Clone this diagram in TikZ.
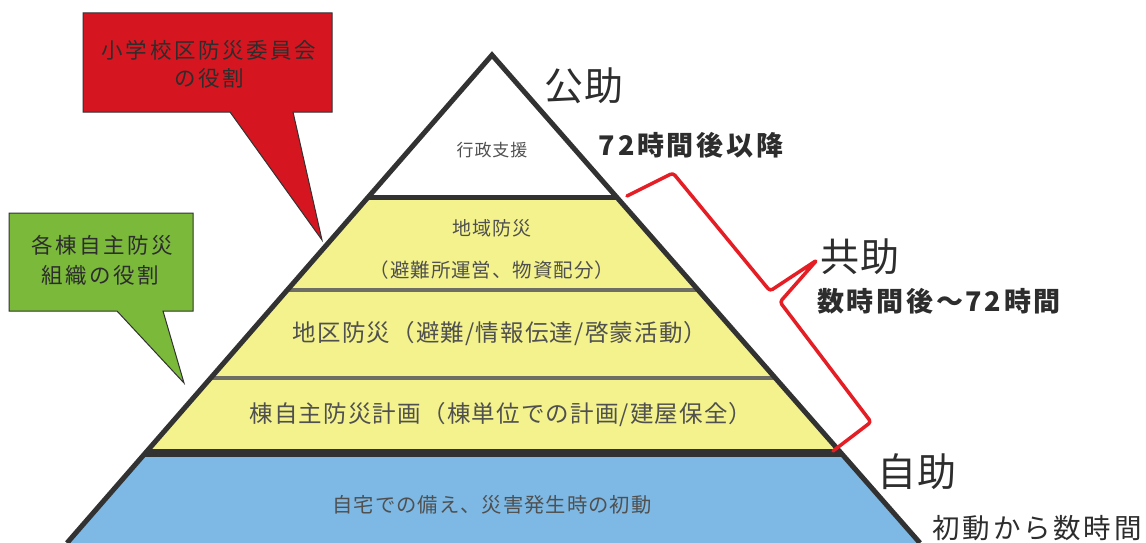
\documentclass[tikz,border=0pt]{standalone}
\usepackage{fontspec}
\newfontfamily\jps[LetterSpace=5]{Noto Sans CJK JP}
\newfontfamily\jp[LetterSpace=12]{Noto Sans CJK JP}
\newfontfamily\jpw[LetterSpace=10]{Noto Sans CJK JP}
\definecolor{calloutred}{RGB}{213,22,32}
\definecolor{calloutgreen}{RGB}{122,185,58}
\definecolor{layeryellow}{RGB}{243,242,140}
\definecolor{layerblue}{RGB}{125,185,228}
\definecolor{outline}{RGB}{50,50,50}
\definecolor{sepgray}{RGB}{110,110,100}
\definecolor{bracered}{RGB}{228,30,36}
\definecolor{txtdark}{RGB}{45,45,45}
\definecolor{txtgray}{RGB}{80,80,80}
\tikzset{
  lbl/.style={inner sep=0pt, anchor=center, text=txtdark},
  layertxt/.style={inner sep=0pt, anchor=center, text=txtgray},
  callout/.style={draw=outline, line width=1pt, line join=miter},
}
\begin{document}
\begin{tikzpicture}[x=1pt,y=-1pt]
\useasboundingbox (0,0) rectangle (1146,543);
\fill[white] (0,0) rectangle (1146,543);

% pyramid layers
\begin{scope}
  \clip (67,543) -- (492,55) -- (920,543) -- cycle;
  \fill[layeryellow] (0,197) rectangle (1146,453);
  \fill[layerblue] (0,453) rectangle (1146,543);
  \draw[sepgray, line width=4pt] (0,290) -- (1146,290);
  \draw[sepgray, line width=4pt] (0,378) -- (1146,378);
  \draw[outline, line width=5pt] (0,197) -- (1146,197);
  \draw[outline, line width=8pt] (0,453) -- (1146,453);
\end{scope}
\coordinate (apex) at (492,55);
\coordinate (baseL) at (67,543);
\coordinate (baseR) at (920,543);
\draw[outline, line width=5pt, line join=miter] (baseL) -- (apex) -- (baseR);

% layer texts
\node[layertxt, font={\jps\fontsize{17}{20}\selectfont}] (gyosei) at (492,150) {行政支援};
\node[layertxt, font={\jps\fontsize{19}{22}\selectfont}] (chiiki) at (492,228) {地域防災};
\node[layertxt, font={\jps\fontsize{19.5}{22}\selectfont}] (chiikisub) at (492,270) {（避難所運営、物資配分）};
\node[layertxt, font={\jps\fontsize{23.5}{27}\selectfont}] (chiku) at (500,334) {地区防災（避難/情報伝達/啓蒙活動）};
\node[layertxt, font={\jps\fontsize{23.5}{27}\selectfont}] (mune) at (501,415) {棟自主防災計画（棟単位での計画/建屋保全）};
\node[layertxt, font={\jps\fontsize{20.3}{24}\selectfont}] (jitaku) at (492,505) {自宅での備え、災害発生時の初動};

% right labels
\node[lbl, font={\jps\fontsize{39}{42}\selectfont}] (kojo) at (584,86) {公助};
\node[lbl, font={\jpw\bfseries\fontsize{27}{30}\selectfont}] (after72) at (691,145) {72時間後以降};
\node[lbl, font={\jps\fontsize{39}{42}\selectfont}] (kyojo) at (860,257) {共助};
\node[lbl, font={\jpw\bfseries\fontsize{27}{30}\selectfont}] (sujikan) at (939,301) {数時間後～72時間};
\node[lbl, font={\jps\fontsize{39}{42}\selectfont}] (jijo) at (917,472) {自助};
\node[lbl, font={\jpw\fontsize{27.5}{30}\selectfont}] (shodo) at (1037,528) {初動から数時間};

% brace
\coordinate (bA) at (627,196);
\coordinate (bB) at (673,173);
\coordinate (bC) at (770,291);
\coordinate (bD) at (817,260);
\coordinate (bE) at (780,302);
\coordinate (bF) at (871,422);
\coordinate (bG) at (833,451);
\draw[bracered, line width=3.5pt, line join=round, line cap=round, rounded corners=3pt]
  (bA) -- (bB) -- (bC) -- (bD) -- (bE) -- (bF) -- (bG);

% red callout
\fill[calloutred] (83,13) -- (332,13) -- (332,112) -- (293,112) -- (322,240) -- (230,112) -- (83,112) -- cycle;
\draw[callout] (83,13) -- (332,13) -- (332,112) -- (293,112) -- (322,240) -- (230,112) -- (83,112) -- cycle;
\node[lbl, font={\jp\fontsize{21.5}{24}\selectfont}] (redA) at (209,50) {小学校区防災委員会};
\node[lbl, font={\jp\fontsize{21.5}{24}\selectfont}] (redB) at (209,78) {の役割};

% green callout
\fill[calloutgreen] (9,213) -- (193,213) -- (193,311) -- (163,311) -- (184,383) -- (117,311) -- (9,311) -- cycle;
\draw[callout] (9,213) -- (193,213) -- (193,311) -- (163,311) -- (184,383) -- (117,311) -- (9,311) -- cycle;
\node[lbl, font={\jp\fontsize{21.5}{24}\selectfont}] (greenA) at (102,245) {各棟自主防災};
\node[lbl, font={\jp\fontsize{21.5}{24}\selectfont}] (greenB) at (100,275) {組織の役割};
\end{tikzpicture}
\end{document}
